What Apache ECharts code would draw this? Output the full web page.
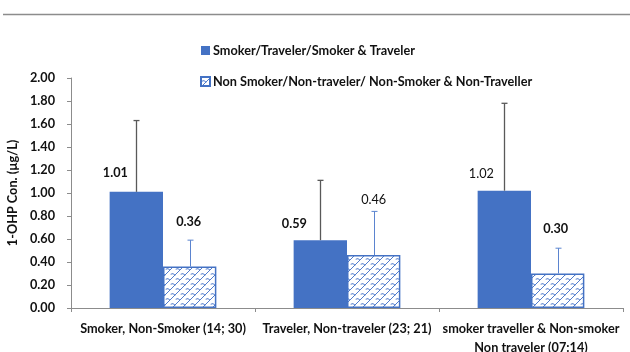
<!DOCTYPE html>
<html>
<head>
<meta charset="utf-8">
<script src="https://cdn.jsdelivr.net/npm/echarts@6/dist/echarts.min.js"></script>
<style>
  html, body { margin: 0; padding: 0; background: #fff; }
  #chart { width: 630px; height: 352px; }
</style>
</head>
<body>
<div id="chart"></div>
<script>
// Groups and their sample sizes
const categories = [
  'Smoker, Non-Smoker (14; 30)',
  'Traveler, Non-traveler (23; 21)',
  'smoker traveller & Non-smoker\nNon traveler (07:14)'
];
const seriesNames = [
  'Smoker/Traveler/Smoker & Traveler',
  'Non Smoker/Non-traveler/ Non-Smoker & Non-Traveller'
];
// Mean 1-OHP concentration (µg/L)
const exposedMeans = [1.01, 0.59, 1.02];
const unexposedMeans = [0.36, 0.46, 0.30];
// Upper error (SD)
const exposedErr = [0.62, 0.52, 0.76];
const unexposedErr = [0.23, 0.38, 0.22];
const yTicks = [0, 0.2, 0.4, 0.6, 0.8, 1.0, 1.2, 1.4, 1.6, 1.8, 2.0];

const BLUE = '#4472C4';
const FONT = 'Lato, "Open Sans", sans-serif';
const FS = 12.7;
const CAT_GAP = 0.42;

// Shingle-like hatch fill for the second series
function makeHatch() {
  const c = document.createElement('canvas');
  c.width = 10; c.height = 10;
  const g = c.getContext('2d');
  g.fillStyle = '#fff';
  g.fillRect(0, 0, 10, 10);
  g.strokeStyle = '#4f7bcc';
  g.lineWidth = 1;
  g.lineCap = 'round';
  // rising diagonals
  g.beginPath();
  g.moveTo(0, 10); g.lineTo(10, 0);
  g.moveTo(-5, 5); g.lineTo(5, -5);
  g.moveTo(5, 15); g.lineTo(15, 5);
  g.stroke();
  // curved cross strokes between diagonals
  g.beginPath();
  g.moveTo(1, 4); g.quadraticCurveTo(3, 2.5, 5, 5);
  g.moveTo(6, 9); g.quadraticCurveTo(8, 7.5, 10, 10);
  g.stroke();
  return c;
}
const hatch = { image: makeHatch(), repeat: 'repeat' };

// Label placement and weight per bar
const exposedLabelStyle = [
  { offset: [-21, -7], fontWeight: 'bold' },
  { offset: [-26, -5], fontWeight: 'bold' },
  { offset: [-23, -5], fontWeight: 'normal' }
];
const unexposedLabelStyle = [
  { offset: [-1, -33], fontWeight: 'bold' },
  { offset: [0, -44], fontWeight: 'normal' },
  { offset: [-2, -33], fontWeight: 'bold' }
];

function withLabels(values, styles) {
  return values.map((v, i) => ({ value: v, label: styles[i] }));
}

function errorSeries(means, errs, side, color, width) {
  return {
    type: 'custom',
    z: 5,
    silent: true,
    data: means.map((m, i) => [i, m, m + errs[i]]),
    renderItem: function (params, api) {
      const catW = api.size([1, 0])[0];
      const bw = catW * (1 - CAT_GAP) / 2;
      const base = api.coord([api.value(0), api.value(1)]);
      const top = api.coord([api.value(0), api.value(2)]);
      const x = Math.round(base[0] + side * bw / 2) + 0.5;
      const cap = 3;
      const st = { stroke: color, lineWidth: width };
      return {
        type: 'group',
        children: [
          { type: 'line', shape: { x1: x, y1: base[1], x2: x, y2: top[1] }, style: st },
          { type: 'line', shape: { x1: x - cap, y1: top[1], x2: x + cap, y2: top[1] }, style: st }
        ]
      };
    }
  };
}

const chart = echarts.init(document.getElementById('chart'), null, { renderer: 'canvas' });
chart.setOption({
  animation: false,
  textStyle: { fontFamily: FONT },
  graphic: [{
    type: 'line',
    shape: { x1: 3, y1: 14.5, x2: 630, y2: 14.5 },
    style: { stroke: '#8c8c8c', lineWidth: 1.5 }
  }],
  legend: {
    orient: 'vertical',
    left: 195,
    top: 39,
    itemGap: 18,
    itemWidth: 9,
    itemHeight: 9,
    icon: 'rect',
    textStyle: { fontFamily: FONT, fontSize: FS, fontWeight: 'bold', color: '#111', padding: [0, 0, 0, -2] },
    data: seriesNames
  },
  grid: { left: 71, right: 7, top: 78, bottom: 44, outerBoundsMode: 'none', containLabel: false },
  xAxis: {
    type: 'category',
    data: categories,
    axisLine: { lineStyle: { color: '#8c8c8c', width: 1 } },
    axisTick: { show: true, length: 4, lineStyle: { color: '#8c8c8c' } },
    axisLabel: {
      interval: 0,
      margin: 11,
      fontFamily: FONT,
      fontSize: FS,
      fontWeight: 'bold',
      color: '#111',
      lineHeight: 19
    }
  },
  yAxis: {
    type: 'value',
    min: 0,
    max: 2,
    interval: 0.2,
    name: '1-OHP Con. (µg/L)',
    nameLocation: 'middle',
    nameRotate: 90,
    nameGap: 51,
    nameTextStyle: { fontFamily: FONT, fontSize: FS, fontWeight: 'bold', color: '#111' },
    axisLine: { show: true, lineStyle: { color: '#8c8c8c', width: 1 } },
    axisTick: { show: true, length: 4, lineStyle: { color: '#8c8c8c' } },
    splitLine: { show: false },
    axisLabel: {
      margin: 16,
      fontFamily: FONT,
      fontSize: FS,
      fontWeight: 'bold',
      color: '#111',
      formatter: v => yTicks.some(t => Math.abs(t - v) < 1e-9) ? v.toFixed(2) : ''
    }
  },
  series: [
    {
      name: seriesNames[0],
      type: 'bar',
      barGap: '0%',
      barCategoryGap: (CAT_GAP * 100) + '%',
      itemStyle: { color: BLUE },
      label: {
        show: true,
        position: 'top',
        fontFamily: FONT,
        fontSize: FS,
        color: '#111',
        formatter: p => p.value.toFixed(2)
      },
      data: withLabels(exposedMeans, exposedLabelStyle)
    },
    {
      name: seriesNames[1],
      type: 'bar',
      itemStyle: { color: hatch, borderColor: BLUE, borderWidth: 1.5 },
      label: {
        show: true,
        position: 'top',
        fontFamily: FONT,
        fontSize: FS,
        color: '#111',
        formatter: p => p.value.toFixed(2)
      },
      data: withLabels(unexposedMeans, unexposedLabelStyle)
    },
    errorSeries(exposedMeans, exposedErr, -1, '#595959', 1.3),
    errorSeries(unexposedMeans, unexposedErr, 1, '#5b84cf', 1)
  ]
});
</script>
</body>
</html>
